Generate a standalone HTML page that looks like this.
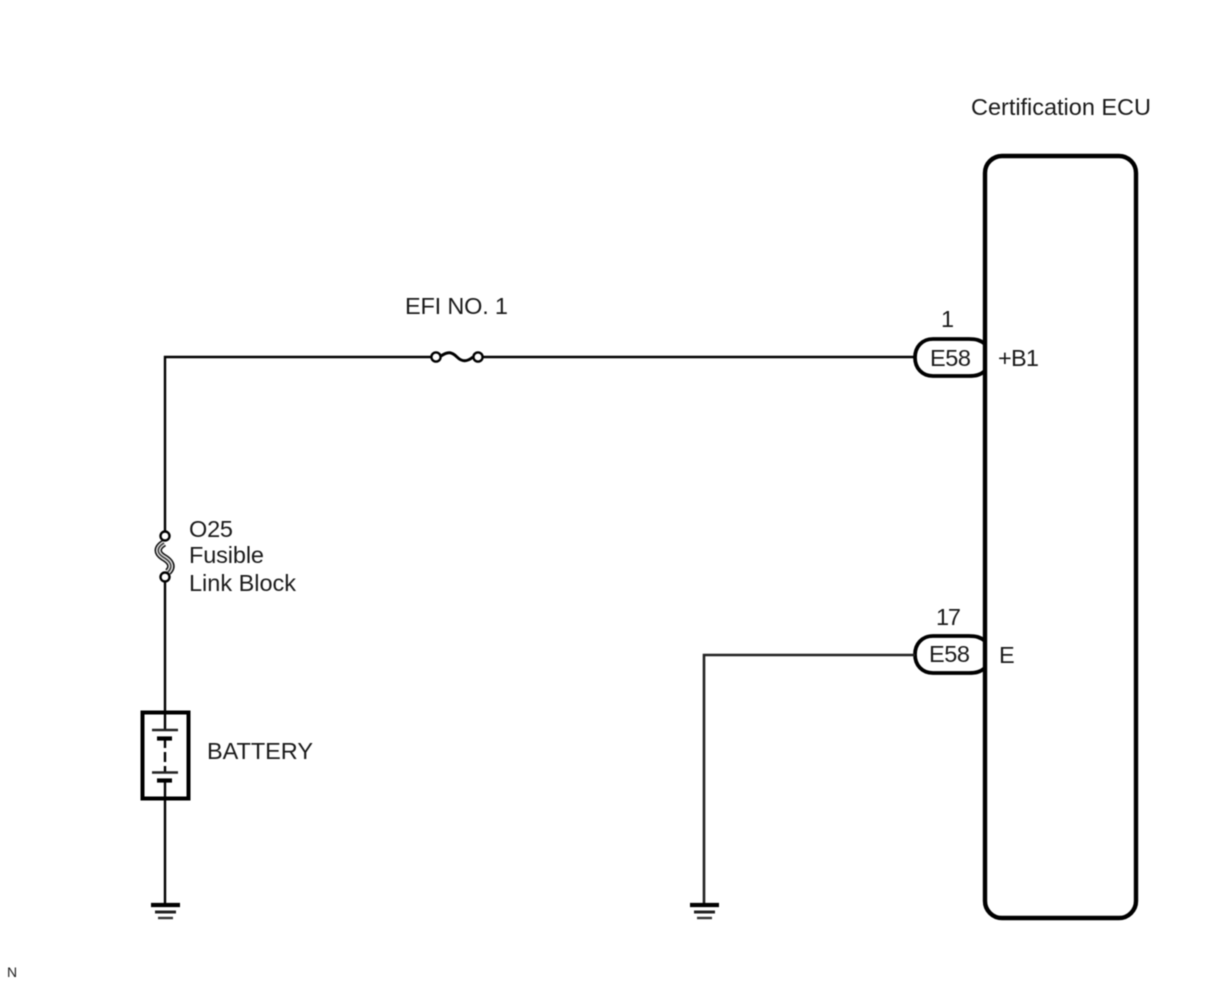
<!DOCTYPE html>
<html>
<head>
<meta charset="utf-8">
<style>
html,body{margin:0;padding:0;background:#fff;}
svg{display:block;filter:blur(.45px);}
text{font-family:"Liberation Sans",Arial,sans-serif;font-size:23.5px;fill:#1a1a1a;}
</style>
</head>
<body>
<svg width="1210" height="986" viewBox="0 0 1210 986" xmlns="http://www.w3.org/2000/svg">
<g fill="none" stroke="#000" stroke-width="2.4">
  <!-- Top wire -->
  <path d="M165 532V357H431"/>
  <path d="M483 357H915"/>
  <!-- Inline fuse -->
  <circle cx="436" cy="357" r="4.6"/>
  <circle cx="478" cy="357" r="4.6"/>
  <path d="M441 356C448 351 452 352 457 357C462 362 467 362 473 357" stroke-width="3"/>
  <!-- Connectors -->
  <path d="M985 344C980 340 976 339 969 339H933C922 339 915 347 915 357.500C915 368 922 376 933 376H969C976 376 980 375 985 371" stroke-width="3.800"/>
  <path d="M985 641C980 637 976 636 969 636H933C922 636 915 644 915 654.500C915 665 922 673 933 673H969C976 673 980 672 985 668" stroke-width="3.800"/>
  <!-- Lower wire -->
  <path d="M915 655H704V903" stroke="#222" stroke-width="2.600"/>
  <!-- Fusible link -->
  <path d="M164 543C156 548 157 553 163 557C170 561 174 566 168 572" stroke="#111" stroke-width="7.500"/>
  <path d="M164 543C156 548 157 553 163 557C170 561 174 566 168 572" stroke="#ddd" stroke-width="4.500"/>
  <path d="M164 543C156 548 157 553 163 557C170 561 174 566 168 572" stroke="#333" stroke-width="1.400"/>
  <circle cx="165" cy="536" r="4.500" fill="#fff"/>
  <circle cx="165" cy="577" r="4.500" fill="#fff"/>
  <!-- Wire to battery and ground -->
  <path d="M165 581V730"/>
  <path d="M165 798V903"/>
  <!-- Battery -->
  <rect x="142.500" y="712.500" width="46" height="86" stroke-width="4"/>
  <path d="M152 730H178" stroke-width="2.600" stroke="#222"/>
  <path d="M157 738.500H172" stroke-width="4.200"/>
  <path d="M165 738V748"/>
  <path d="M165 752V762"/>
  <path d="M165 766V772"/>
  <path d="M152 772.500H178" stroke-width="2.600" stroke="#222"/>
  <path d="M157 780.500H172" stroke-width="4.200"/>
  <path d="M165 780V798"/>
  <!-- ECU -->
  <rect x="985" y="156" width="151" height="762" rx="17" ry="17" stroke-width="4.400"/>
  <!-- Grounds -->
  <path d="M151 905H180" stroke-width="4.200"/>
  <path d="M155 912H176" stroke-width="3" stroke="#222"/>
  <path d="M158 918H173" stroke-width="2.400" stroke="#333"/>
  <path d="M690 905H719" stroke-width="4.200"/>
  <path d="M694 912H715" stroke-width="3" stroke="#222"/>
  <path d="M697 918H712" stroke-width="2.400" stroke="#333"/>
</g>
<text x="971" y="115" textLength="180">Certification ECU</text>
<text x="405" y="314" textLength="103">EFI NO. 1</text>
<text x="941" y="327">1</text>
<text x="930" y="366" textLength="41">E58</text>
<text x="998" y="366" textLength="41">+B1</text>
<text x="936" y="625" textLength="25">17</text>
<text x="929" y="662" textLength="41">E58</text>
<text x="999" y="663">E</text>
<text x="189" y="537" textLength="44">O25</text>
<text x="189" y="563" textLength="75">Fusible</text>
<text x="189" y="591" textLength="107">Link Block</text>
<text x="207" y="759" textLength="106">BATTERY</text>
<text x="7" y="977" style="font-size:14px">N</text>
</svg>
</body>
</html>
